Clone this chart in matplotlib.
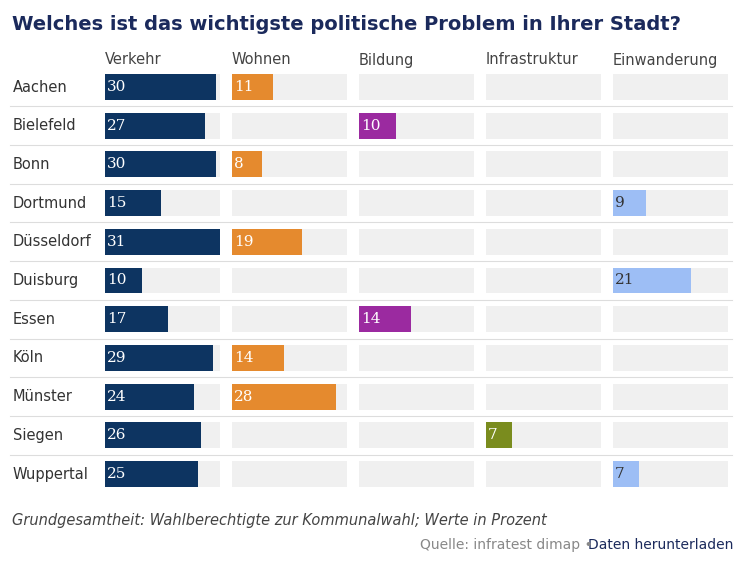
import matplotlib
matplotlib.use("Agg")
import matplotlib.pyplot as plt

cities = ["Aachen","Bielefeld","Bonn","Dortmund","Düsseldorf","Duisburg","Essen","Köln","Münster","Siegen","Wuppertal"]
topics = ["Verkehr","Wohnen","Bildung","Infrastruktur","Einwanderung"]
verkehr = [30,27,30,15,31,10,17,29,24,26,25]
wohnen = [11,None,8,None,19,None,None,14,28,None,None]
bildung = [None,10,None,None,None,None,14,None,None,None,None]
infrastruktur = [None,None,None,None,None,None,None,None,None,7,None]
einwanderung = [None,None,None,9,None,21,None,None,None,None,7]
series = [verkehr,wohnen,bildung,infrastruktur,einwanderung]
colors = ["#0d3461","#e58a2e","#9b2aa0","#7a8c1e","#9dbef5"]
textcols = ["white","white","white","white","#333333"]

W,H = 750,568
fig = plt.figure(figsize=(7.5,5.68), dpi=100)
fig.patch.set_facecolor("white")
fig.text(12/W, 1-25/H, "Welches ist das wichtigste politische Problem in Ihrer Stadt?",
         fontsize=14, fontweight="bold", color="#1b2a5c", va="center", ha="left")

n = len(cities)
top_px, row_h = 87-19.35, 38.7
bot_px = top_px + n*row_h
maxv = 31
for ci,(t,vals) in enumerate(zip(topics,series)):
    x0 = 105 + ci*127
    ax = fig.add_axes([x0/W, 1-bot_px/H, 115/W, (bot_px-top_px)/H])
    ax.set_xlim(0,maxv); ax.set_ylim(n-0.5,-0.5)
    ax.axis("off")
    ys = list(range(n))
    ax.barh(ys,[maxv]*n,height=0.67,color="#f0f0f0",left=0)
    for i,v in enumerate(vals):
        if v is None: continue
        ax.barh(i,v,height=0.67,color=colors[ci])
        ax.text(0.5,i,str(v),color=textcols[ci],fontsize=11,family="DejaVu Serif",va="center",ha="left")
    fig.text(x0/W, 1-60/H, t, fontsize=10.5, color="#444444", va="center", ha="left")

for i,c in enumerate(cities):
    yc = top_px + (i+0.5)*row_h
    fig.text(13/W, 1-yc/H, c, fontsize=10.5, color="#333333", va="center", ha="left")
    if i < n-1:
        yl = 1-(top_px+(i+1)*row_h)/H
        fig.add_artist(plt.Line2D([10/W,732/W],[yl,yl],color="#dddddd",lw=0.8))

fig.text(12/W, 1-520/H, "Grundgesamtheit: Wahlberechtigte zur Kommunalwahl; Werte in Prozent",
         fontsize=10.5, style="italic", color="#444444", va="center", ha="left")
fig.text(733/W, 1-545/H, "Daten herunterladen", fontsize=10, color="#1b2a5c", va="center", ha="right")
fig.text(593/W, 1-545/H, "Quelle: infratest dimap \u2022", fontsize=10, color="#888888", va="center", ha="right")
fig.savefig("out.png", dpi=100)
